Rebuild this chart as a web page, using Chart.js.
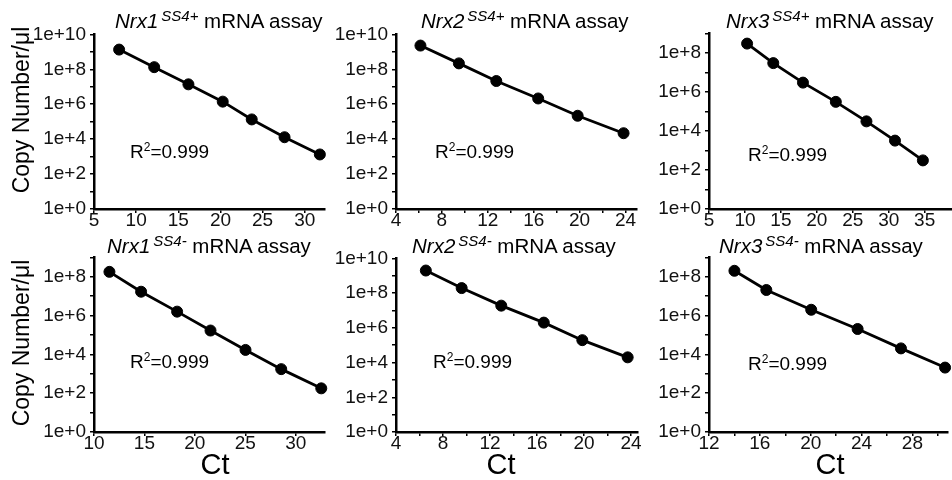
<!DOCTYPE html>
<html>
<head>
<meta charset="utf-8">
<title>Nrx standard curves</title>
<script src="https://cdn.jsdelivr.net/npm/chart.js@4"></script>
<style>
  body { margin: 0; background: #fff; overflow: hidden; }
  #fig { position: relative; width: 952px; height: 480px; overflow: hidden;
         font-family: "Liberation Sans", Arial, sans-serif; color: #000; }
  #fig canvas { position: absolute; }
  .txt { position: absolute; white-space: nowrap; z-index: 2; }
  .ttl { font-size: 20.5px; line-height: 20px; }
  .ttl .ss { font-size: 15px; font-style: italic; position: relative; top: -7px; margin-left: 3px; }
  .r2 { font-size: 19px; line-height: 19px; }
  .r2 .sq { font-size: 12px; position: relative; top: -7px; }
  .ct { font-size: 29px; line-height: 29px; transform: translateX(-50%); }
  .ylab { font-size: 23px; line-height: 23px; transform: translate(-50%, -50%) rotate(-90deg); }
</style>
</head>
<body>
<div id="fig"></div>
<script>
// Ct vs copy number (copies/ul) for each dilution series
const ctNrx1Pos = [7.98, 12.14, 16.2, 20.27, 23.71, 27.6, 31.79];
const copiesNrx1Pos = [1.35e9, 1.33e8, 1.38e7, 1.41e6, 1.35e5, 1.29e4, 1.33e3];

const ctNrx2Pos = [6.13, 9.48, 12.74, 16.39, 19.83, 23.83];
const copiesNrx2Pos = [2.29e9, 2.19e8, 2.14e7, 2.14e6, 2.19e5, 2.19e4];

const ctNrx3Pos = [10.3, 13.94, 18.07, 22.64, 26.9, 30.87, 34.75];
const copiesNrx3Pos = [3.0e8, 3.0e7, 3.0e6, 3.1e5, 3.1e4, 3.2e3, 3.1e2];

const ctNrx1Neg = [11.53, 14.67, 18.24, 21.55, 25.02, 28.56, 32.53];
const copiesNrx1Neg = [1.8e8, 1.7e7, 1.6e6, 1.7e5, 1.7e4, 1.74e3, 1.78e2];

const ctNrx2Neg = [6.54, 9.59, 12.96, 16.58, 19.86, 23.72];
const copiesNrx2Neg = [2.0e9, 1.95e8, 1.9e7, 2.0e6, 1.95e5, 2.0e4];

const ctNrx3Neg = [14.0, 16.51, 20.04, 23.69, 27.1, 30.57];
const copiesNrx3Neg = [2.04e8, 2.09e7, 2.0e6, 2.04e5, 2.04e4, 2.09e3];

const geneNames = ['Nrx1', 'Nrx2', 'Nrx3', 'Nrx1', 'Nrx2', 'Nrx3'];
const spliceTags = ['SS4+', 'SS4+', 'SS4+', 'SS4-', 'SS4-', 'SS4-'];
const r2Values = ['0.999', '0.999', '0.999', '0.999', '0.999', '0.999'];

// x tick marks and which of them carry a label
const xTicksBy5From5 = [5, 10, 15, 20, 25, 30, 35];
const xTicksBy5From10 = [10, 15, 20, 25, 30];
const xTicksBy2From4 = [4, 6, 8, 10, 12, 14, 16, 18, 20, 22, 24];
const xLabelsBy4From4 = [4, 8, 12, 16, 20, 24];
const xTicksBy2From12 = [12, 14, 16, 18, 20, 22, 24, 26, 28, 30];
const xLabelsBy4From12 = [12, 16, 20, 24, 28];

// y: a tick every decade, labelled every second one
const yDecades = [1e0, 1e1, 1e2, 1e3, 1e4, 1e5, 1e6, 1e7, 1e8, 1e9, 1e10];
const yLabelled = [1e0, 1e2, 1e4, 1e6, 1e8, 1e10];

Chart.defaults.font.family = '"Liberation Sans", Arial, sans-serif';
Chart.defaults.color = '#111';

const AXIS_W = 70, AXIS_H = 30, PAD_TOP = 14, PAD_RIGHT = 14;

// box = plot area [left, top, right, bottom] in page pixels
const panels = [
  { ct: ctNrx1Pos, copies: copiesNrx1Pos, xMin: 5, xMax: 32.4, xTicks: xTicksBy5From5.slice(0, 6), xLabels: xTicksBy5From5, yMax: 1e10,
    box: [94, 33, 325, 209], title: [115, 28], r2: [130, 158] },
  { ct: ctNrx2Pos, copies: copiesNrx2Pos, xMin: 4, xMax: 25, xTicks: xTicksBy2From4, xLabels: xLabelsBy4From4, yMax: 1e10,
    box: [396, 33, 637, 209], title: [421, 28], r2: [435, 158] },
  { ct: ctNrx3Pos, copies: copiesNrx3Pos, xMin: 5, xMax: 38.8, xTicks: xTicksBy5From5, xLabels: xTicksBy5From5, yMax: 1e9,
    box: [709, 32, 952, 209], title: [726, 28], r2: [748, 161] },
  { ct: ctNrx1Neg, copies: copiesNrx1Neg, xMin: 10, xMax: 32.9, xTicks: xTicksBy5From10, xLabels: xTicksBy5From10, yMax: 1e9,
    box: [94, 256, 325, 432], title: [107, 253], r2: [130, 367.5], ct0: 215 },
  { ct: ctNrx2Neg, copies: copiesNrx2Neg, xMin: 4, xMax: 24.6, xTicks: xTicksBy2From4, xLabels: xLabelsBy4From4, yMax: 1e10,
    box: [396, 257, 638, 432], title: [412, 253], r2: [433, 367.5], ct0: 501 },
  { ct: ctNrx3Neg, copies: copiesNrx3Neg, xMin: 12, xMax: 30.8, xTicks: xTicksBy2From12, xLabels: xLabelsBy4From12, yMax: 1e9,
    box: [709, 256, 948, 432], title: [719, 253], r2: [748, 370], ct0: 830 }
];

const fig = document.getElementById('fig');

function addText(cls, html, left, top) {
  const d = document.createElement('div');
  d.className = 'txt ' + cls;
  d.innerHTML = html;
  d.style.left = left + 'px';
  d.style.top = top + 'px';
  fig.appendChild(d);
}

panels.forEach((p, i) => {
  const [l, t, r, b] = p.box;
  const cv = document.createElement('canvas');
  cv.width = AXIS_W + (r - l) + PAD_RIGHT;
  cv.height = PAD_TOP + (b - t) + AXIS_H;
  cv.style.left = (l - AXIS_W) + 'px';
  cv.style.top = (t - PAD_TOP) + 'px';
  fig.appendChild(cv);

  const yTicks = yDecades.filter(v => v <= p.yMax);

  new Chart(cv, {
    type: 'scatter',
    data: {
      datasets: [{
        data: p.ct.map((c, k) => ({ x: c, y: p.copies[k] })),
        showLine: true,
        borderColor: '#000',
        borderWidth: 2.8,
        pointRadius: 5.5,
        pointBackgroundColor: '#000',
        pointBorderColor: '#000',
        pointBorderWidth: 1,
        clip: false
      }]
    },
    options: {
      responsive: false,
      animation: false,
      layout: { padding: { top: PAD_TOP, right: PAD_RIGHT, left: 0, bottom: 0 } },
      plugins: { legend: { display: false }, tooltip: { enabled: false } },
      scales: {
        x: {
          type: 'linear',
          min: p.xMin,
          max: p.xMax,
          afterBuildTicks: ax => { ax.ticks = p.xTicks.map(v => ({ value: v })); },
          afterFit: ax => { ax.height = AXIS_H; },
          grid: { drawOnChartArea: false, drawTicks: true, tickLength: 4, color: '#000', lineWidth: 1.5 },
          border: { display: true, color: '#000', width: 2.5 },
          ticks: {
            autoSkip: false, maxRotation: 0, padding: -4, font: { size: 19 },
            callback: v => p.xLabels.includes(v) ? String(v) : ''
          }
        },
        y: {
          type: 'logarithmic',
          min: 1,
          max: p.yMax,
          afterBuildTicks: ax => { ax.ticks = yTicks.map(v => ({ value: v })); },
          afterFit: ax => { ax.width = AXIS_W; },
          grid: { drawOnChartArea: false, drawTicks: true, tickLength: 4, color: '#000', lineWidth: 1.5 },
          border: { display: true, color: '#000', width: 2.5 },
          ticks: {
            autoSkip: false, padding: 4, font: { size: 19 },
            callback: v => yLabelled.includes(v) ? '1e+' + Math.round(Math.log10(v)) : ''
          }
        }
      }
    }
  });

  addText('ttl', '<i>' + geneNames[i] + '</i><span class="ss">' + spliceTags[i] + '</span> mRNA assay',
          p.title[0], p.title[1] - 17);
  addText('r2', 'R<span class="sq">2</span>=' + r2Values[i], p.r2[0], p.r2[1] - 16);
  if (p.ct0) addText('ct', 'Ct', p.ct0, 449.5);
});

addText('ylab', 'Copy Number/\u03bcl', 21, 110);
addText('ylab', 'Copy Number/\u03bcl', 21, 343);
</script>
</body>
</html>
